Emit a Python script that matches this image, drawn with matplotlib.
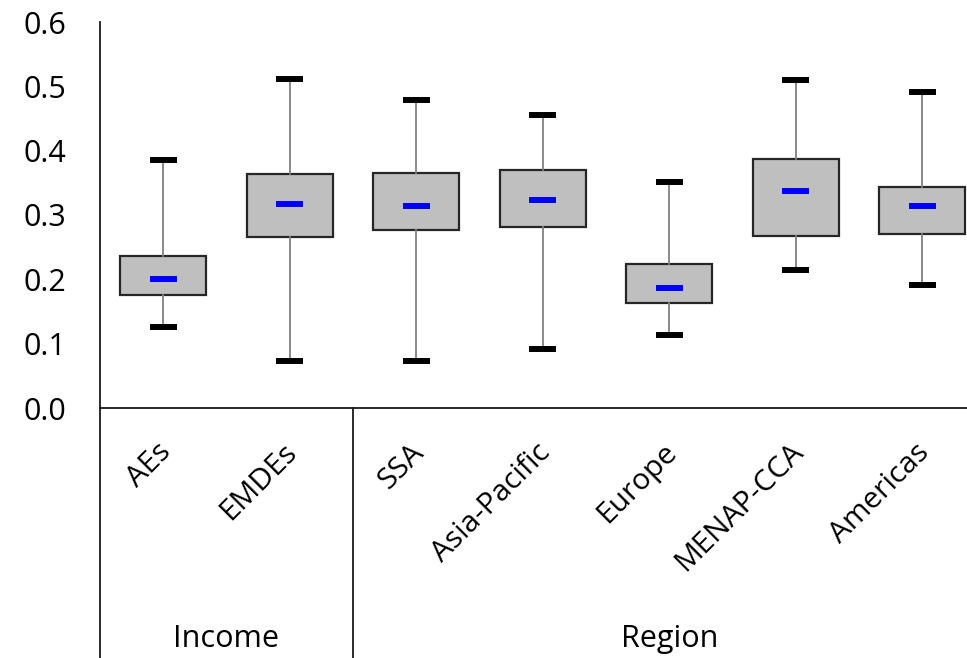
import matplotlib
matplotlib.use("Agg")
import matplotlib.pyplot as plt
from matplotlib.lines import Line2D

plt.rcParams["font.family"] = ["Open Sans", "DejaVu Sans"]

categories = ["AEs", "EMDEs", "SSA", "Asia-Pacific", "Europe", "MENAP-CCA", "Americas"]
whisker_low = [0.126, 0.073, 0.073, 0.092, 0.113, 0.215, 0.191]
box_q1 = [0.176, 0.266, 0.276, 0.282, 0.163, 0.268, 0.270]
median = [0.201, 0.317, 0.314, 0.323, 0.187, 0.337, 0.314]
box_q3 = [0.236, 0.364, 0.366, 0.370, 0.224, 0.387, 0.343]
whisker_high = [0.385, 0.511, 0.479, 0.455, 0.351, 0.510, 0.491]
groups = ["Income", "Region"]
group_sizes = [2, 5]
yticks = [0.0, 0.1, 0.2, 0.3, 0.4, 0.5, 0.6]

W, H = 967, 658
fig = plt.figure(figsize=(W / 100, H / 100), dpi=100)
# axes runs a bit past the right edge, as in the original
ax = fig.add_axes([100 / W, (H - 408) / H, 885.5 / W, 386 / H])

stats = []
for i, name in enumerate(categories):
    stats.append({"label": name, "med": median[i], "q1": box_q1[i], "q3": box_q3[i],
                  "whislo": whisker_low[i], "whishi": whisker_high[i], "fliers": []})

pos = list(range(len(categories)))
ax.bxp(stats, positions=pos, widths=0.68, capwidths=0.215, patch_artist=True,
       showfliers=False,
       boxprops=dict(facecolor="#bfbfbf", edgecolor="#262626", linewidth=1.6),
       whiskerprops=dict(color="#808080", linewidth=1.3),
       capprops=dict(color="black", linewidth=4.3, solid_capstyle="butt"),
       medianprops=dict(linewidth=0))
ax.hlines(median, [p - 0.107 for p in pos], [p + 0.107 for p in pos],
          colors="#0000ff", linewidth=4.3, zorder=5)

ax.set_xlim(-0.5, len(categories) - 0.5)
ax.set_ylim(0, 0.6)
ax.set_yticks(yticks)
ax.set_yticklabels(["%.1f" % v for v in yticks], fontsize=22)
ax.tick_params(axis="y", length=0, pad=24)
ax.set_xticks([])
for s in ["top", "right"]:
    ax.spines[s].set_visible(False)
for s in ["left", "bottom"]:
    ax.spines[s].set_color("#1a1a1a")
    ax.spines[s].set_linewidth(1.3)

# rotated category labels
for i, name in enumerate(categories):
    ax.text(i + 0.025, -0.062, name, rotation=45, rotation_mode="anchor",
            ha="right", va="center", fontsize=21.5, clip_on=False)

# group separators and labels below the axis
def fx(d):
    return ax.transData.transform((d, 0))[0] / W

fig.add_artist(Line2D([100 / W, 100 / W], [0, (H - 408) / H], color="#1a1a1a", lw=1.3))
start = 0
for g, n in zip(groups, group_sizes):
    left = start - 0.5
    right = start + n - 0.5
    if start > 0:
        fig.add_artist(Line2D([fx(left), fx(left)], [0, (H - 408) / H],
                              color="#1a1a1a", lw=1.3))
    fig.text((fx(left) + fx(right)) / 2, (H - 639) / H, g, ha="center", va="center",
             fontsize=22)
    start += n

fig.savefig("out.png", dpi=100)
